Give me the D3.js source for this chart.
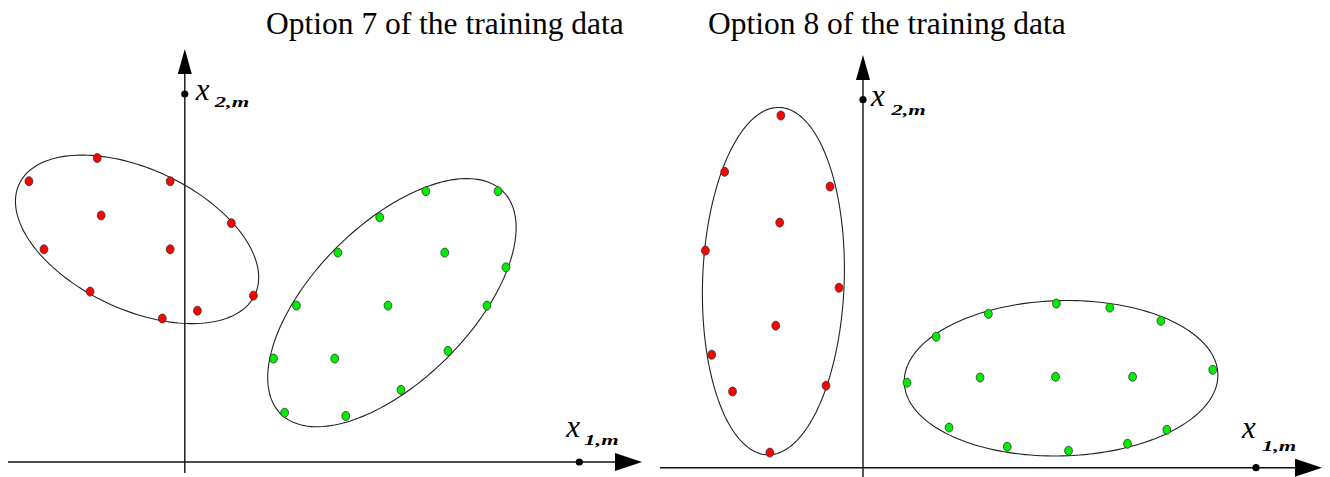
<!DOCTYPE html>
<html>
<head>
<meta charset="utf-8">
<script src="https://cdn.jsdelivr.net/npm/d3@7"></script>
<style>
  html, body { margin: 0; padding: 0; background: #fff; }
  svg { display: block; }
</style>
</head>
<body>
<svg id="chart" width="1330" height="477"></svg>
<script>
// ---- Data (axis units; the x1,m and x2,m markers sit at 10 on each axis) ----
const titles = ["Option 7 of the training data", "Option 8 of the training data"];

// Option 7 samples
const opt7Red = [
  [-3.95, 7.63], [-2.22, 8.26], [-0.37, 7.63], [-2.12, 6.70], [1.18, 6.49],
  [-3.57, 5.78], [-0.37, 5.78], [-2.40, 4.63], [1.74, 4.52], [-0.57, 3.90], [0.32, 4.11]
];
const opt7Green = [
  [2.25, 2.81], [3.80, 2.81], [2.53, 1.34], [4.08, 1.25], [5.48, 1.96],
  [6.67, 3.02], [7.66, 4.25], [8.14, 5.29], [6.59, 5.69], [5.15, 4.25],
  [2.83, 4.25], [3.88, 5.69], [6.11, 7.36], [7.94, 7.36], [4.94, 6.65]
];

// Option 8 samples
const opt8Red = [
  [-2.09, 9.57], [-3.52, 8.04], [-0.84, 7.64], [-2.12, 6.66], [-4.01, 5.90],
  [-0.61, 4.89], [-2.22, 3.86], [-3.85, 3.07], [-0.94, 2.23], [-3.32, 2.07], [-2.37, 0.41]
];
const opt8Green = [
  [1.12, 2.31], [2.98, 2.45], [4.90, 2.47], [6.86, 2.47], [8.90, 2.66],
  [1.86, 3.56], [3.19, 4.18], [4.92, 4.46], [6.28, 4.35], [7.58, 3.99],
  [2.19, 1.09], [3.67, 0.57], [5.23, 0.46], [6.73, 0.65], [7.73, 1.03]
];

// Class boundaries: centre and two conjugate semi-axis vectors (axis units)
const opt7RedEllipse   = { cx: -1.21, cy: 6.05, ax: 2.99,  ay: -1.50, bx: -0.75, by: -1.73 };
const opt7GreenEllipse = { cx: 5.25,  cy: 4.33, ax: 2.82,  ay: 3.02,  bx: 1.40,  by: -1.50 };
const opt8RedEllipse   = { cx: -2.28, cy: 5.07, ax: 0.156, ay: 4.72,  bx: 1.80,  by: -0.07 };
const opt8GreenEllipse = { cx: 5.04,  cy: 2.43, ax: 3.99,  ay: 0.11,  bx: 0.05,  by: -2.11 };

// Marker position for x1,m / x2,m on each axis
const axisMax = 10;
const axisSubscripts = ["1,m", "2,m"];

// ---- Layout ----
const panels = [
  { title: titles[0], titleX: 266, red: opt7Red, green: opt7Green,
    redEllipse: opt7RedEllipse, greenEllipse: opt7GreenEllipse,
    ox: 184.8, oy: 462, ux: 39.45, uy: 36.8,
    xFrom: 8, xTo: 642, yFrom: 473, yTo: 49,
    lab1: { mx: -13, my: -25, sx: 5, sy: -17 },
    lab2: { mx: 11, my: 5.5, sx: 30, sy: 13 } },
  { title: titles[1], titleX: 708, red: opt8Red, green: opt8Green,
    redEllipse: opt8RedEllipse, greenEllipse: opt8GreenEllipse,
    ox: 863, oy: 467.7, ux: 39.3, uy: 36.8,
    xFrom: 660, xTo: 1322, yFrom: 477, yTo: 55,
    lab1: { mx: -14, my: -30, sx: 6, sy: -17 },
    lab2: { mx: 8, my: 6.7, sx: 28.5, sy: 15 } }
];

const svg = d3.select("#chart");
const serif = "'Liberation Serif', 'Times New Roman', serif";
const hArrowLen = 27, hArrowHalf = 9;
const vArrowLen = 25, vArrowHalf = 7;

panels.forEach(p => {
  const x = d3.scaleLinear().domain([0, axisMax]).range([p.ox, p.ox + axisMax * p.ux]);
  const y = d3.scaleLinear().domain([0, axisMax]).range([p.oy, p.oy - axisMax * p.uy]);
  const g = svg.append("g");

  // Title
  g.append("text")
    .attr("x", p.titleX).attr("y", 34)
    .attr("font-family", serif).attr("font-size", 31.5)
    .attr("fill", "#000")
    .text(p.title);

  // Axes
  g.append("line")
    .attr("x1", p.xFrom).attr("x2", p.xTo - hArrowLen + 2)
    .attr("y1", y(0)).attr("y2", y(0))
    .attr("stroke", "#111").attr("stroke-width", 1.4);
  g.append("line")
    .attr("x1", x(0)).attr("x2", x(0))
    .attr("y1", p.yFrom).attr("y2", p.yTo + vArrowLen - 2)
    .attr("stroke", "#111").attr("stroke-width", 1.4);

  // Arrowheads
  g.append("path")
    .attr("d", `M${p.xTo},${y(0)} L${p.xTo - hArrowLen},${y(0) - hArrowHalf} L${p.xTo - hArrowLen},${y(0) + hArrowHalf} Z`)
    .attr("fill", "#000");
  g.append("path")
    .attr("d", `M${x(0)},${p.yTo} L${x(0) - vArrowHalf},${p.yTo + vArrowLen} L${x(0) + vArrowHalf},${p.yTo + vArrowLen} Z`)
    .attr("fill", "#000");

  // Axis markers
  g.append("circle").attr("cx", x(axisMax)).attr("cy", y(0)).attr("r", 3.6).attr("fill", "#000");
  g.append("circle").attr("cx", x(0)).attr("cy", y(axisMax)).attr("r", 3.6).attr("fill", "#000");

  // Axis labels x_{1,m} and x_{2,m}; the subscript is set wide and low
  const label = (px, py, o, sub) => {
    g.append("text")
      .attr("x", px + o.mx).attr("y", py + o.my)
      .attr("font-family", serif).attr("font-size", 31)
      .attr("font-style", "italic").attr("fill", "#000")
      .text("x");
    g.append("text")
      .attr("transform", `translate(${px + o.sx},${py + o.sy}) scale(1.55,1)`)
      .attr("font-family", serif).attr("font-size", 14.5)
      .attr("font-style", "italic").attr("font-weight", "bold").attr("fill", "#000")
      .text(sub);
  };
  label(x(axisMax), y(0), p.lab1, axisSubscripts[0]);
  label(x(0), y(axisMax), p.lab2, axisSubscripts[1]);

  // Class boundary ellipses
  const ellipsePath = e => {
    const pts = d3.range(0, 2 * Math.PI, Math.PI / 90).map(t => [
      x(e.cx + e.ax * Math.cos(t) + e.bx * Math.sin(t)),
      y(e.cy + e.ay * Math.cos(t) + e.by * Math.sin(t))
    ]);
    return d3.line().curve(d3.curveLinearClosed)(pts);
  };
  [p.redEllipse, p.greenEllipse].forEach(e => {
    g.append("path")
      .attr("d", ellipsePath(e))
      .attr("fill", "none").attr("stroke", "#222").attr("stroke-width", 1.1);
  });

  // Samples
  const drawPoints = (data, color) => {
    g.selectAll(null).data(data).enter().append("ellipse")
      .attr("cx", d => x(d[0])).attr("cy", d => y(d[1]))
      .attr("rx", 3.9).attr("ry", 4.5)
      .attr("fill", color).attr("stroke", "#333").attr("stroke-width", 0.8);
  };
  drawPoints(p.red, "#ff0000");
  drawPoints(p.green, "#00ee00");
});
</script>
</body>
</html>
